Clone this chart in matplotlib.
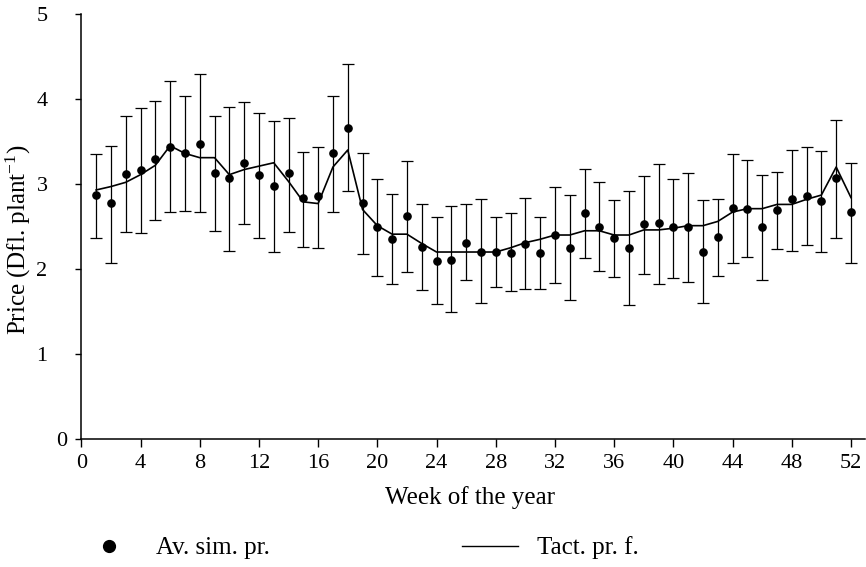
import matplotlib
matplotlib.use("Agg")
import matplotlib.pyplot as plt
from matplotlib.lines import Line2D

plt.rcParams['font.family'] = ['Liberation Serif', 'DejaVu Serif']
plt.rcParams['mathtext.fontset'] = 'custom'
plt.rcParams['mathtext.rm'] = 'Liberation Serif'
plt.rcParams['mathtext.it'] = 'Liberation Serif:italic'
plt.rcParams['mathtext.bf'] = 'Liberation Serif:bold'


# week numbers
weeks = list(range(1, 53))

# average simulated price (dots)
sim_price = [2.87, 2.78, 3.12, 3.17, 3.29, 3.44, 3.36, 3.47, 3.13, 3.07,
             3.25, 3.11, 2.98, 3.13, 2.83, 2.86, 3.36, 3.66, 2.78, 2.49,
             2.35, 2.62, 2.26, 2.10, 2.11, 2.31, 2.20, 2.20, 2.19, 2.30,
             2.19, 2.40, 2.25, 2.66, 2.50, 2.36, 2.25, 2.53, 2.54, 2.49,
             2.50, 2.20, 2.38, 2.72, 2.71, 2.50, 2.69, 2.82, 2.86, 2.80,
             3.07, 2.67]

# upper / lower end of the error bars
sim_upper = [3.35, 3.45, 3.80, 3.90, 3.98, 4.21, 4.04, 4.29, 3.80, 3.91,
             3.96, 3.84, 3.74, 3.78, 3.38, 3.44, 4.04, 4.41, 3.36, 3.06,
             2.88, 3.27, 2.77, 2.61, 2.74, 2.77, 2.82, 2.61, 2.66, 2.84,
             2.61, 2.97, 2.87, 3.18, 3.02, 2.81, 2.92, 3.10, 3.24, 3.06,
             3.13, 2.81, 2.82, 3.35, 3.28, 3.11, 3.14, 3.40, 3.43, 3.39,
             3.75, 3.25]
sim_lower = [2.37, 2.07, 2.43, 2.42, 2.58, 2.67, 2.68, 2.67, 2.45, 2.21,
             2.53, 2.36, 2.20, 2.44, 2.26, 2.25, 2.67, 2.92, 2.18, 1.92,
             1.82, 1.96, 1.75, 1.59, 1.50, 1.87, 1.60, 1.79, 1.74, 1.77,
             1.77, 1.83, 1.63, 2.13, 1.98, 1.91, 1.58, 1.94, 1.82, 1.90,
             1.85, 1.60, 1.92, 2.07, 2.14, 1.87, 2.23, 2.21, 2.28, 2.20,
             2.36, 2.07]

# tactical price forecast (line)
tact_price = [2.93, 2.97, 3.02, 3.11, 3.22, 3.45, 3.36, 3.31, 3.31, 3.11,
              3.17, 3.21, 3.25, 3.03, 2.79, 2.77, 3.20, 3.40, 2.70, 2.51,
              2.41, 2.41, 2.30, 2.20, 2.20, 2.20, 2.20, 2.20, 2.25, 2.31,
              2.35, 2.40, 2.40, 2.45, 2.45, 2.40, 2.40, 2.46, 2.46, 2.48,
              2.51, 2.51, 2.56, 2.67, 2.71, 2.71, 2.76, 2.76, 2.82, 2.87,
              3.20, 2.84]

x_ticks = list(range(0, 53, 4))
y_ticks = [0, 1, 2, 3, 4, 5]

err_lo = [p - lo for p, lo in zip(sim_price, sim_lower)]
err_hi = [hi - p for p, hi in zip(sim_price, sim_upper)]

fig = plt.figure(figsize=(8.66, 5.67), dpi=100)
ax = fig.add_axes([0.0939, 0.2257, 0.905, 0.7496])

ax.errorbar(weeks, sim_price, yerr=[err_lo, err_hi], fmt='none',
            ecolor='black', elinewidth=0.9, capsize=4.3, capthick=0.9)
ax.plot(weeks, tact_price, color='black', lw=1.2)
ax.plot(weeks, sim_price, ls='none', marker='o', color='black', ms=5.2)

ax.set_xlim(0, 52.95)
ax.set_ylim(0, 5)
ax.set_xticks(x_ticks)
ax.set_yticks(y_ticks)
ax.spines['top'].set_visible(False)
ax.spines['right'].set_visible(False)
ax.spines['left'].set_linewidth(1.1)
ax.spines['bottom'].set_linewidth(1.1)

ax.tick_params(axis='x', direction='out', length=5.8, width=1, labelsize=16, pad=5)
ax.tick_params(axis='y', direction='out', length=4.3, width=1, labelsize=16, pad=20)
ax.yaxis.get_major_ticks()[0].set_pad(6)

ax.set_xlabel('Week of the year', fontsize=18)
ax.xaxis.set_label_coords(0.496, -0.11)
ax.set_ylabel('Price (Dfl. plant$^{-1}$)', fontsize=18, va='center')
ax.yaxis.set_label_coords(-0.0807, 0.468)

handles = [Line2D([], [], ls='none', marker='o', color='black', ms=8.5),
           Line2D([], [], color='black', lw=1.0)]
fig.legend(handles, ['Av. sim. pr.', 'Tact. pr. f.'], ncol=2, frameon=False,
           loc='center left', bbox_to_anchor=(0.0935, 0.0335), fontsize=18,
           handlelength=2.24, handletextpad=0.75, columnspacing=7.7,
           borderpad=0, borderaxespad=0)

plt.savefig('out.png', dpi=100)
